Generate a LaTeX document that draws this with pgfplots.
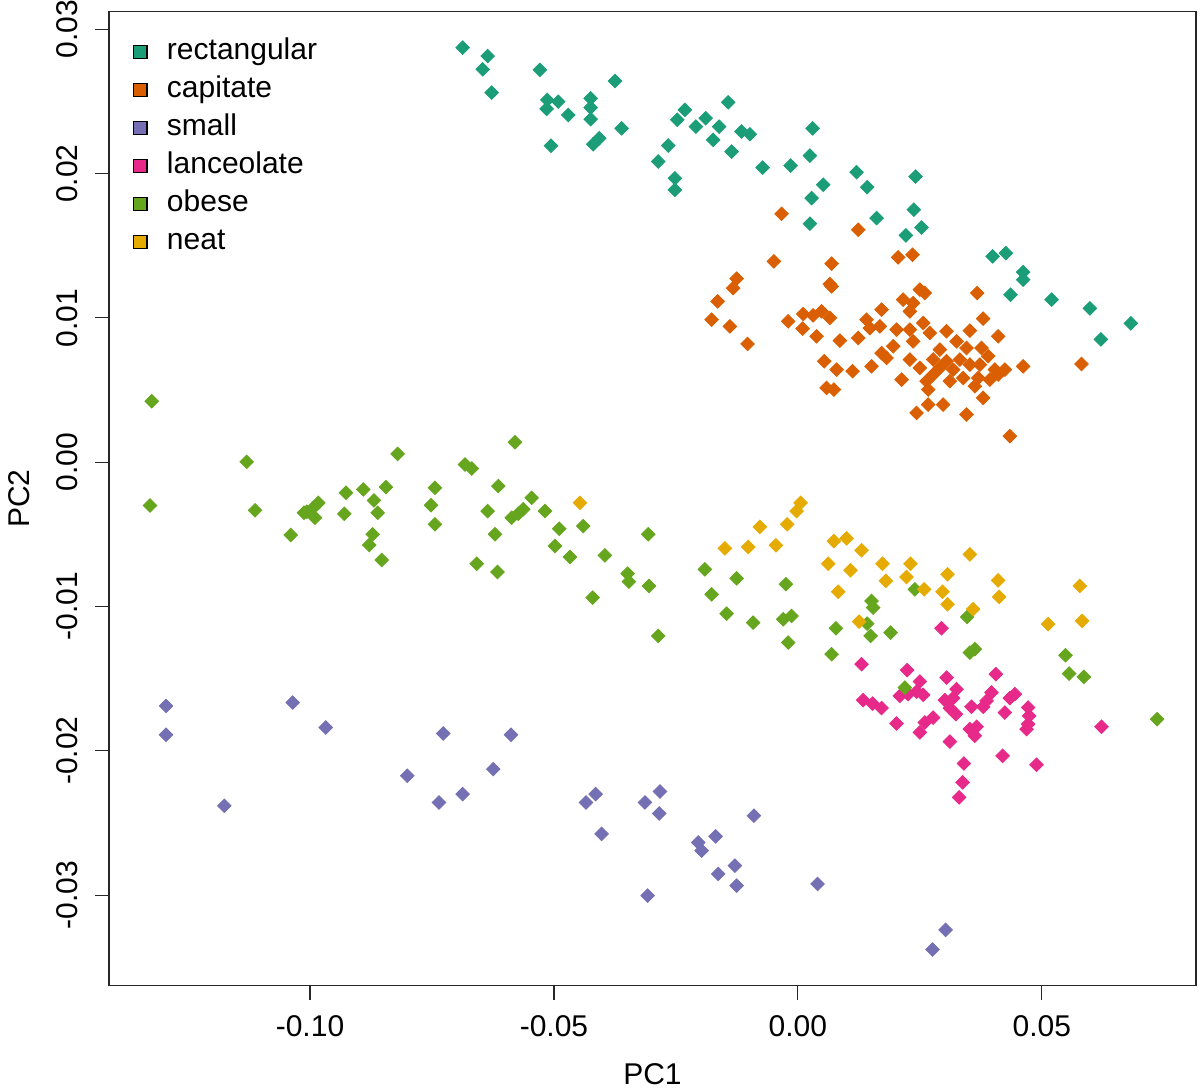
\documentclass[border=0pt]{standalone}
\usepackage{pgfplots}
\pgfplotsset{compat=1.18}
\usepackage{fontspec}
\setmainfont{Liberation Sans}
\definecolor{cTeal}{HTML}{1B9E77}
\definecolor{cOrange}{HTML}{D95F02}
\definecolor{cPurple}{HTML}{7570B3}
\definecolor{cPink}{HTML}{E7298A}
\definecolor{cGreen}{HTML}{66A61E}
\definecolor{cYellow}{HTML}{E6AB02}
\newcommand{\fs}{\fontsize{15}{18}\selectfont}
\pgfplotsset{
  dia/.style={only marks, mark=square*, mark size=2.4pt, color=#1, mark options={rotate=45, draw=none, fill=#1}},
  leg/.style={only marks, mark=square*, mark size=3.4pt, mark options={fill=#1, draw=black, line width=0.6pt}},
}
\begin{document}
\begin{tikzpicture}
\begin{axis}[
  scale only axis, width=543.5pt, height=487pt,
  xmin=-0.1412, xmax=0.0816, ymin=-0.03627, ymax=0.03122,
  axis line style={line width=0.6pt, black!85},
  xtick={-0.10,-0.05,0,0.05},
  ytick={-0.03,-0.02,-0.01,0,0.01,0.02,0.03},
  tick pos=left, tick align=outside, major tick length=7pt,
  tick style={line width=0.6pt, black!85},
  scaled ticks=false,
  /pgf/number format/.cd, fixed, fixed zerofill, precision=2, assume math mode=true,
  /pgfplots/.cd,
  xticklabel style={font=\fs, inner sep=0pt, anchor=north},
  yticklabel style={font=\fs, inner sep=0pt, rotate=90, anchor=south},
  xticklabel shift=8pt,
  yticklabel shift=8.5pt,
  xlabel={PC1}, ylabel={PC2},
  xlabel style={font=\fs, at={(axis description cs:0.5,-0.080)}, anchor=north, inner sep=0pt},
  ylabel style={font=\fs, at={(axis description cs:-0.0727,0.5)}, anchor=south, inner sep=0pt, rotate=0},
  legend style={at={(rel axis cs:0,1)}, anchor=north west, xshift=12pt, yshift=-13pt,
    draw=none, fill=none, inner sep=0pt, row sep=5pt, font=\fs,
    nodes={inner sep=0pt, text height=11pt, text depth=3pt},
    /tikz/column 1/.style={column sep=10pt}},
  legend cell align=left,
]
\addlegendimage{leg=cTeal}
\addlegendentry{rectangular}
\addlegendimage{leg=cOrange}
\addlegendentry{capitate}
\addlegendimage{leg=cPurple}
\addlegendentry{small}
\addlegendimage{leg=cPink}
\addlegendentry{lanceolate}
\addlegendimage{leg=cGreen}
\addlegendentry{obese}
\addlegendimage{leg=cYellow}
\addlegendentry{neat}
% rectangular
\addplot[forget plot, dia=cTeal] coordinates {
(-0.06871,0.02872) (-0.06359,0.02814) (-0.06461,0.02722) (-0.06277,0.02561) (-0.05287,0.02718) (-0.03750,0.02641) (-0.05137,0.02510) (-0.04912,0.02498) (-0.05150,0.02448) (-0.04707,0.02406) (-0.04248,0.02521) (-0.04248,0.02457) (-0.04248,0.02376) (-0.03613,0.02313) (-0.05061,0.02192) (-0.04195,0.02203) (-0.04072,0.02244) (-0.02316,0.02441) (-0.02473,0.02372) (-0.01428,0.02493) (-0.01891,0.02383) (-0.02090,0.02325) (-0.01613,0.02325) (-0.01154,0.02291) (-0.00984,0.02272) (-0.01736,0.02233) (-0.02658,0.02194) (-0.02863,0.02083) (-0.01359,0.02152) (-0.00723,0.02041) (-0.00150,0.02055) (-0.02521,0.01967) (-0.02521,0.01887) (0.00301,0.02313) (0.00246,0.02124) (0.01203,0.02009) (0.01420,0.01905) (0.00518,0.01922) (0.00281,0.01829) (0.02412,0.01979) (0.00246,0.01652) (0.01613,0.01691) (0.02377,0.01749) (0.02535,0.01626) (0.02213,0.01571) (0.03990,0.01426) (0.04262,0.01448) (0.04617,0.01317) (0.04617,0.01264) (0.04359,0.01160) (0.05199,0.01126) (0.05984,0.01066) (0.06209,0.00851) (0.06824,0.00962)
};
% capitate
\addplot[forget plot, dia=cOrange] coordinates {
(-0.00334,0.01721) (0.01236,0.01610) (-0.00492,0.01391) (0.00691,0.01375) (0.02055,0.01419) (0.02350,0.01437) (0.00691,0.01218) (0.03674,0.01172) (-0.01256,0.01271) (-0.01326,0.01206) (-0.01646,0.01114) (-0.01768,0.00987) (-0.01393,0.00941) (-0.01031,0.00819) (0.00656,0.01234) (-0.00199,0.00976) (0.00109,0.01026) (0.00314,0.01017) (0.00486,0.01045) (0.00656,0.00999) (0.00096,0.00925) (0.00383,0.00872) (0.00861,0.00842) (0.00539,0.00699) (0.00793,0.00641) (0.01121,0.00630) (0.00588,0.00514) (0.00738,0.00503) (0.02158,0.01126) (0.02363,0.01102) (0.02500,0.01195) (0.02602,0.01172) (0.02295,0.01045) (0.01715,0.01057) (0.01408,0.00987) (0.01236,0.00860) (0.01475,0.00929) (0.01680,0.00941) (0.02023,0.00918) (0.02295,0.00918) (0.02568,0.00964) (0.02705,0.00895) (0.02363,0.00837) (0.01715,0.00756) (0.01953,0.00803) (0.01818,0.00722) (0.01510,0.00664) (0.02295,0.00711) (0.02500,0.00653) (0.02125,0.00572) (0.03797,0.00994) (0.03047,0.00907) (0.03525,0.00911) (0.04105,0.00872) (0.02910,0.00780) (0.03252,0.00837) (0.03457,0.00791) (0.03764,0.00791) (0.03900,0.00734) (0.02773,0.00711) (0.03047,0.00699) (0.03320,0.00711) (0.03525,0.00676) (0.03730,0.00676) (0.02910,0.00653) (0.03182,0.00641) (0.04037,0.00641) (0.04242,0.00641) (0.02773,0.00607) (0.02637,0.00561) (0.03115,0.00561) (0.03387,0.00583) (0.03695,0.00583) (0.03934,0.00572) (0.04105,0.00607) (0.02670,0.00503) (0.03627,0.00526) (0.03797,0.00445) (0.02670,0.00399) (0.02977,0.00399) (0.02432,0.00341) (0.03457,0.00330) (0.04617,0.00664) (0.05814,0.00680) (0.04344,0.00180)
};
% small
\addplot[forget plot, dia=cPurple] coordinates {
(-0.12951,-0.01689) (-0.12951,-0.01889) (-0.11756,-0.02381) (-0.10355,-0.01666) (-0.09678,-0.01839) (-0.07268,-0.01880) (-0.08006,-0.02173) (-0.07357,-0.02358) (-0.06871,-0.02300) (-0.06244,-0.02127) (-0.05881,-0.01889) (-0.04145,-0.02300) (-0.04344,-0.02358) (-0.03135,-0.02358) (-0.02828,-0.02282) (-0.02842,-0.02434) (-0.04023,-0.02576) (-0.03080,-0.03003) (-0.02043,-0.02635) (-0.01973,-0.02692) (-0.01686,-0.02593) (-0.01291,-0.02796) (-0.01633,-0.02853) (-0.01256,-0.02934) (-0.00902,-0.02450) (0.00404,-0.02923) (0.03027,-0.03241) (0.02760,-0.03377)
};
% lanceolate
\addplot[forget plot, dia=cPink] coordinates {
(0.02945,-0.01151) (0.01305,-0.01400) (0.02240,-0.01441) (0.02500,-0.01520) (0.03047,-0.01493) (0.04057,-0.01469) (0.02090,-0.01619) (0.02260,-0.01608) (0.02432,-0.01590) (0.02568,-0.01612) (0.03252,-0.01573) (0.03182,-0.01635) (0.03012,-0.01649) (0.03969,-0.01596) (0.03867,-0.01654) (0.04447,-0.01608) (0.04344,-0.01635) (0.01338,-0.01649) (0.01531,-0.01673) (0.01715,-0.01704) (0.03559,-0.01695) (0.03797,-0.01695) (0.03115,-0.01704) (0.03238,-0.01746) (0.04242,-0.01735) (0.04719,-0.01700) (0.04740,-0.01758) (0.04719,-0.01815) (0.04686,-0.01850) (0.02773,-0.01770) (0.02602,-0.01804) (0.02500,-0.01873) (0.02023,-0.01811) (0.03525,-0.01850) (0.03662,-0.01834) (0.03627,-0.01896) (0.03115,-0.01936) (0.03402,-0.02088) (0.04195,-0.02035) (0.04891,-0.02097) (0.03375,-0.02219) (0.03305,-0.02323) (0.06223,-0.01834)
};
% obese
\addplot[forget plot, dia=cGreen] coordinates {
(-0.13244,0.00422) (-0.13279,-0.00300) (-0.11297,0.00002) (-0.11127,-0.00334) (-0.10396,-0.00505) (-0.10068,-0.00344) (-0.09932,-0.00316) (-0.09830,-0.00282) (-0.09898,-0.00385) (-0.10123,-0.00351) (-0.09262,-0.00212) (-0.09297,-0.00358) (-0.08908,-0.00189) (-0.08689,-0.00265) (-0.08613,-0.00351) (-0.08443,-0.00173) (-0.08203,0.00057) (-0.08715,-0.00500) (-0.08785,-0.00574) (-0.08531,-0.00678) (-0.07439,-0.00178) (-0.07520,-0.00298) (-0.07439,-0.00431) (-0.06824,-0.00016) (-0.06686,-0.00044) (-0.06359,-0.00339) (-0.06209,-0.00500) (-0.06584,-0.00704) (-0.06141,-0.00166) (-0.06158,-0.00761) (-0.05799,0.00138) (-0.05457,-0.00247) (-0.05629,-0.00327) (-0.05732,-0.00358) (-0.05867,-0.00385) (-0.05184,-0.00339) (-0.04891,-0.00462) (-0.04400,-0.00443) (-0.04980,-0.00581) (-0.04672,-0.00657) (-0.03955,-0.00646) (-0.04207,-0.00939) (-0.03490,-0.00773) (-0.03463,-0.00828) (-0.03053,-0.00858) (-0.03068,-0.00500) (-0.02863,-0.01204) (-0.01906,-0.00743) (-0.01256,-0.00805) (-0.01768,-0.00916) (-0.01461,-0.01050) (-0.00916,-0.01112) (-0.00246,-0.00846) (-0.00301,-0.01089) (-0.00129,-0.01066) (-0.00199,-0.01250) (0.00691,-0.01331) (0.00779,-0.01151) (0.01510,-0.00962) (0.01543,-0.01008) (0.01420,-0.01119) (0.01490,-0.01204) (0.01900,-0.01181) (0.02398,-0.00881) (0.03469,-0.01073) (0.03525,-0.01320) (0.03627,-0.01296) (0.02193,-0.01562) (0.05486,-0.01338) (0.05559,-0.01465) (0.05861,-0.01488) (0.07363,-0.01781)
};
% neat
\addplot[forget plot, dia=cYellow] coordinates {
(-0.04467,-0.00282) (0.00055,-0.00282) (-0.00027,-0.00339) (-0.00779,-0.00448) (-0.00219,-0.00431) (-0.01496,-0.00597) (-0.01018,-0.00588) (-0.00451,-0.00576) (0.00738,-0.00547) (0.00998,-0.00528) (0.01305,-0.00611) (0.00621,-0.00704) (0.01080,-0.00749) (0.01736,-0.00704) (0.02309,-0.00704) (0.03525,-0.00639) (0.00826,-0.00898) (0.01803,-0.00823) (0.02227,-0.00796) (0.03068,-0.00777) (0.04105,-0.00819) (0.02588,-0.00881) (0.02965,-0.00898) (0.03068,-0.00985) (0.04125,-0.00934) (0.03592,-0.01019) (0.01256,-0.01105) (0.05129,-0.01123) (0.05779,-0.00858) (0.05826,-0.01100)
};
\end{axis}
\path ([shift={(-54.5pt,-52pt)}]current axis.south west) rectangle ([shift={(2pt,5pt)}]current axis.north east);
\end{tikzpicture}
\end{document}
